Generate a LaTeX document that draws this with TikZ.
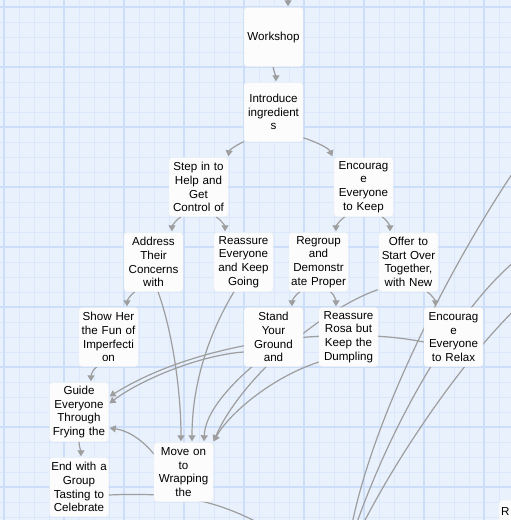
\documentclass[tikz,border=0pt]{standalone}
\usepackage{fontspec}
\setmainfont{Liberation Sans}
\usetikzlibrary{arrows.meta}

\definecolor{paper}{RGB}{233,241,253}
\definecolor{minorgrid}{RGB}{219,232,251}
\definecolor{majorgrid}{RGB}{204,222,248}
\definecolor{edgegray}{RGB}{158,158,158}
\definecolor{cardfill}{RGB}{252,252,252}

\pgfdeclarelayer{grid}
\pgfdeclarelayer{edges}
\pgfsetlayers{grid,edges,main}

\begin{document}
\begin{tikzpicture}[
        x=1pt, y=-1pt,
        card/.style={rectangle, draw=black!6, fill=cardfill, rounded corners=3pt, minimum width=59pt, minimum height=59pt, text width=57pt, inner sep=1pt, align=center, font=\fontsize{11.6}{13.7}\selectfont},
        link/.style={-{Triangle[length=6pt,width=7pt]}, line width=1.2pt, draw=edgegray, shorten >=1pt},
        pass/.style={line width=1.2pt, draw=edgegray},
        minorline/.style={draw=minorgrid, line width=0.9pt},
        majorline/.style={draw=majorgrid, line width=1.1pt}
    ]
        \useasboundingbox (0,0) rectangle (511,520);
        \clip (0,0) rectangle (511,520);

        \node[card] (workshop) at (273.5,37) {Workshop};
        \node[card] (intro) at (273.5,112) {Introduce\\ingredient\\s};
        \node[card] (stepin) at (198.5,187) {Step in to\\Help and\\Get\\Control of};
        \node[card] (keepon) at (363.5,187) {Encourag\\e\\Everyone\\to Keep};

        \node[card] (address) at (153.5,262) {Address\\Their\\Concerns\\with};
        \node[card] (reassure) at (243.5,262) {Reassure\\Everyone\\and Keep\\Going};
        \node[card] (regroup) at (318.5,262) {Regroup\\and\\Demonstr\\ate Proper};
        \node[card] (offer) at (408.5,262) {Offer to\\Start Over\\Together,\\with New};

        \node[card] (showher) at (108.5,337) {Show Her\\the Fun of\\Imperfecti\\on};
        \node[card] (stand) at (273.5,337) {Stand\\Your\\Ground\\and};
        \node[card] (rosa) at (348.5,337) {Reassure\\Rosa but\\Keep the\\Dumpling};
        \node[card] (relax) at (453.5,337) {Encourag\\e\\Everyone\\to Relax};

        \node[card] (guide) at (79,412) {Guide\\Everyone\\Through\\Frying the};
        \node[card] (wrap) at (183.5,472) {Move on\\to\\Wrapping\\the};
        \node[card] (tasting) at (79,487) {End with a\\Group\\Tasting to\\Celebrate};

        \node[card, anchor=north west] (rnode) at (499,500) {};
        \node[anchor=north west, inner sep=0pt, font=\fontsize{11.6}{13.7}\selectfont] (rtext) at ([xshift=2pt,yshift=-7pt]rnode.north west) {R};

        \coordinate (abovetop) at (288,-20);
        \coordinate (belowwrap) at (275,532);
        \coordinate (farlowA) at (350,535);
        \coordinate (farhighA) at (525,155);
        \coordinate (farlowB) at (355,528);
        \coordinate (farhighB) at (520,257);
        \coordinate (farlowC) at (360,530);
        \coordinate (farhighC) at (525,300);

        \begin{pgfonlayer}{grid}
            \fill[paper] (0,0) rectangle (511,520);
            \foreach \x in {4,19,...,511} \draw[minorline] (\x,0) -- (\x,520);
            \foreach \y in {7,22,...,520} \draw[minorline] (0,\y) -- (511,\y);
            \foreach \x in {4,64,...,511} \draw[majorline] (\x,0) -- (\x,520);
            \foreach \y in {7,67,...,520} \draw[majorline] (0,\y) -- (511,\y);
        \end{pgfonlayer}

        \begin{pgfonlayer}{edges}
            \clip (0,0) rectangle (511,520);
            % top of the chart
            \draw[link] (abovetop) -- ([xshift=14.5pt]workshop.north);
            \draw[link] ([xshift=-0.5pt]workshop.south) .. controls +(1,6) and +(0,-6) .. ([xshift=2.5pt]intro.north);
            \draw[link] (intro.south west) .. controls +(-7,3) and +(1,-7) .. (stepin.north east);
            \draw[link] ([yshift=4pt]intro.south east) .. controls +(15,5) and +(-4,-9) .. ([xshift=-1pt]keepon.north west);
            % second row
            \draw[link] ([xshift=-17.5pt]stepin.south) .. controls +(-5,3) and +(0,-6) .. ([xshift=18.5pt]address.north);
            \draw[link] ([xshift=17.5pt]stepin.south) .. controls +(5,3) and +(0,-6) .. ([xshift=-18.5pt]reassure.north);
            \draw[link] ([xshift=-18.5pt]keepon.south) .. controls +(-5,3) and +(0,-6) .. ([xshift=17.5pt]regroup.north);
            \draw[link] ([xshift=18.5pt]keepon.south) .. controls +(5,3) and +(0,-6) .. ([xshift=-18.5pt]offer.north);
            % third row
            \draw[link] ([xshift=-18.5pt]address.south) .. controls +(-5,3) and +(0,-6) .. ([xshift=18.5pt]showher.north);
            \draw[link] ([xshift=-18.5pt]regroup.south) .. controls +(-5,3) and +(0,-6) .. ([xshift=18.5pt]stand.north);
            \draw[link] ([xshift=12pt]regroup.south) .. controls +(4,3) and +(0,-6) .. ([xshift=-12.5pt]rosa.north);
            \draw[link] ([xshift=18.5pt]offer.south) .. controls +(5,3) and +(0,-6) .. ([xshift=-18pt]relax.north);
            % into guide and wrapping
            \draw[link] ([xshift=-11.5pt]showher.south) .. controls +(-5,3) and +(0,-6) .. ([xshift=12pt]guide.north);
            \draw[link] (guide.south) .. controls +(0,5) and +(0,-6) .. ([xshift=2pt]tasting.north);
            \draw[link] ([yshift=-5pt]relax.west) .. controls (340,325) and (200,340) .. ([yshift=15pt]guide.east);
            \draw[link] ([yshift=-15pt]stand.west) .. controls (200,355) and (140,380) .. ([yshift=8pt]guide.east);
            \draw[link] ([yshift=18pt]wrap.west) .. controls (140,437) and (125,430) .. ([yshift=-16pt]guide.east);
            \draw[link] ([xshift=4.5pt]address.south) .. controls (172,330) and (181,390) .. ([xshift=-2.5pt]wrap.north);
            \draw[link] ([xshift=-9.5pt]reassure.south) .. controls (205,340) and (192,390) .. ([xshift=8.5pt]wrap.north);
            \draw[link] ([xshift=-21.5pt]stand.south) .. controls (225,390) and (205,415) .. ([xshift=20.5pt]wrap.north);
            \draw[link] ([xshift=-1pt,yshift=2pt]offer.south west) .. controls (320,310) and (240,380) .. (wrap.north east);
            \draw[link] ([yshift=-25pt]rosa.west) .. controls (270,378) and (228,415) .. (wrap.north east);
            % lines running off the page
            \draw[pass] ([yshift=-8pt]tasting.east) .. controls (180,492) and (220,500) .. (belowwrap);
            \draw[pass] (farlowA) .. controls (370,420) and (455,255) .. (farhighA);
            \draw[pass] (farlowB) .. controls (397,408) and (465,300) .. (farhighB);
            \draw[pass] (farlowC) .. controls (400,450) and (470,350) .. (farhighC);
        \end{pgfonlayer}
    \end{tikzpicture}
\end{document}
